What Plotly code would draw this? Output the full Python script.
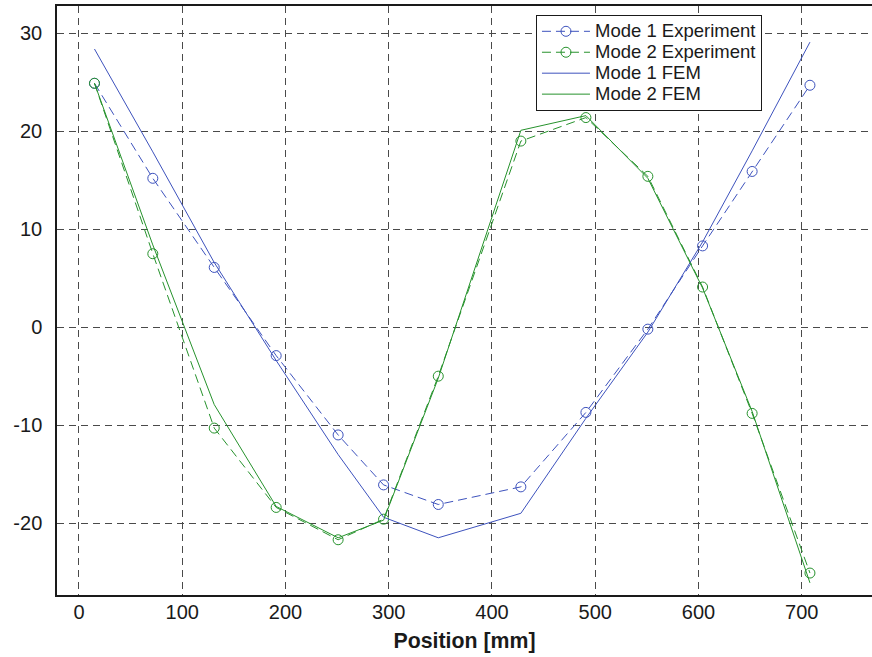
import plotly.graph_objects as go

# Measurement positions (mm)
positions = [15, 71.5, 131, 191, 251, 295, 348, 428, 491, 551, 604, 652, 708]

mode1_exp = [24.9, 15.2, 6.1, -2.9, -11.0, -16.1, -18.1, -16.3, -8.7, -0.2, 8.3, 15.9, 24.7]
mode2_exp = [24.9, 7.5, -10.3, -18.4, -21.7, -19.6, -5.0, 19.0, 21.4, 15.4, 4.1, -8.8, -25.1]
mode1_fem = [28.4, 17.9, 6.6, -3.4, -13.0, -19.4, -21.5, -19.0, -9.3, -0.5, 8.7, 18.0, 29.1]
mode2_fem = [24.9, 8.4, -7.9, -18.3, -21.5, -19.7, -5.2, 20.1, 21.6, 15.2, 4.0, -8.6, -26.1]

series_names = ["Mode 1 Experiment", "Mode 2 Experiment", "Mode 1 FEM", "Mode 2 FEM"]

x_ticks = [0, 100, 200, 300, 400, 500, 600, 700]
y_ticks = [-20, -10, 0, 10, 20, 30]
y_tick_labels = ["-20", "-10", "0", "10", "20", "30"]

BLUE = "#3d52bd"
GREEN = "#26922c"


def lg(name):
    return '<span style="font-size:18.5px">' + name + '</span>'


fig = go.Figure()
fig.add_trace(go.Scatter(x=positions, y=mode1_exp, mode="lines+markers", name=lg(series_names[0]),
                         line=dict(color=BLUE, width=1, dash="9px,5px"),
                         marker=dict(symbol="circle-open", size=10, color=BLUE, line=dict(width=1, color=BLUE))))
fig.add_trace(go.Scatter(x=positions, y=mode2_exp, mode="lines+markers", name=lg(series_names[1]),
                         line=dict(color=GREEN, width=1, dash="9px,5px"),
                         marker=dict(symbol="circle-open", size=10, color=GREEN, line=dict(width=1, color=GREEN))))
fig.add_trace(go.Scatter(x=positions, y=mode1_fem, mode="lines", name=lg(series_names[2]),
                         line=dict(color=BLUE, width=1)))
fig.add_trace(go.Scatter(x=positions, y=mode2_fem, mode="lines", name=lg(series_names[3]),
                         line=dict(color=GREEN, width=1)))

font_family = "Liberation Sans, Arial, sans-serif"

fig.update_layout(
    width=872, height=657,
    margin=dict(l=57, r=0, t=6, b=62),
    paper_bgcolor="white", plot_bgcolor="white",
    font=dict(family=font_family, size=20, color="#1a1a1a"),
    showlegend=True,
    legend=dict(x=0.5877, y=0.985, xanchor="left", yanchor="top",
                bgcolor="white", bordercolor="#1a1a1a", borderwidth=1,
                font=dict(size=13.8, color="#1a1a1a"), tracegroupgap=0,
                itemwidth=48),
    xaxis=dict(range=[-21.3, 768.1], tickvals=x_ticks, ticks="",
               showgrid=True, gridcolor="#4a4a4a", gridwidth=1, griddash="7px,5px",
               showline=True, linecolor="#1a1a1a", linewidth=1.5, mirror=True,
               zeroline=False, ticklabelstandoff=-2,
               title=dict(text="<b>Position [mm]</b>", font=dict(size=21.3, color="#1a1a1a"), standoff=11)),
    yaxis=dict(range=[-27.34, 32.79], tickvals=y_ticks, ticktext=y_tick_labels, ticks="",
               showgrid=True, gridcolor="#4a4a4a", gridwidth=1, griddash="7px,5px",
               showline=True, linecolor="#1a1a1a", linewidth=1.5, mirror=False,
               zeroline=False, ticklabelstandoff=9),
)

fig.write_html("out.html")
